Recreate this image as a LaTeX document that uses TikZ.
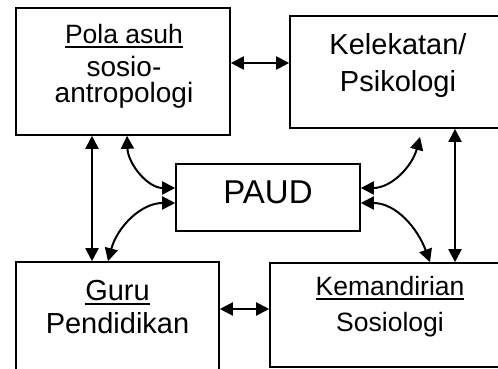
\documentclass[tikz,border=0pt]{standalone}
\usepackage{fontspec}
\setmainfont{Liberation Sans}
\usetikzlibrary{arrows.meta}
\newcommand\myul[1]{\setbox0\hbox{#1}\rlap{\rule[-3.6pt]{\wd0}{1.6pt}}\box0}
\tikzset{
  box/.style={draw, line width=1.6pt, rectangle, inner sep=0pt},
  txtA/.style={anchor=base, inner sep=0pt, font=\fontsize{26.5}{30}\selectfont},
  txtP/.style={anchor=base, inner sep=0pt, font=\fontsize{28}{32}\selectfont},
  txtB/.style={anchor=base, inner sep=0pt, font=\fontsize{29}{32}\selectfont},
  txtC/.style={anchor=base, inner sep=0pt, font=\fontsize{33}{36}\selectfont},
  conn/.style={line width=2pt, {Triangle[length=13pt,width=13pt]}-{Triangle[length=13pt,width=13pt]}},
}
\begin{document}
\begin{tikzpicture}[x=1pt,y=1pt]
\clip (0,0) rectangle (498,369);
\fill[white] (0,0) rectangle (498,369);
% boxes
\node[box, minimum width=214pt, minimum height=127pt] (pola) at (123,297.5) {};
\node[box, minimum width=216pt, minimum height=112pt] (kelek) at (398,297) {};
\node[box, minimum width=203pt, minimum height=118pt] (guru) at (117.5,48) {};
\node[box, minimum width=240pt, minimum height=104pt] (kem) at (390,54) {};
\node[box, minimum width=184pt, minimum height=67pt] (paud) at (268,171.5) {};
% texts
\node[txtA] (t1) at (124,325) {\myul{Pola asuh}};
\node[txtP] (t2) at (124,292) {sosio-};
\node[txtP] (t3) at (124,266) {antropologi};
\node[txtB] (t4) at (398,314) {Kelekatan/};
\node[txtB] (t5) at (398,277) {Psikologi};
\node[txtB] (t6) at (117.5,68) {\myul{Guru}};
\node[txtB] (t7) at (117.5,35) {Pendidikan};
\node[txtA] (t8) at (390,73) {\myul{Kemandirian}};
\node[txtA] (t9) at (390,37) {Sosiologi};
\node[txtC] (t10) at (268,165) {PAUD};
% helper coordinates
\coordinate (h1) at (260,306);
\coordinate (h2) at (245,60);
\coordinate (v1) at (92,180);
\coordinate (v2) at (455,180);
\coordinate (cA) at (127,0);
\coordinate (cB) at (108,0);
\coordinate (cC) at (420,232);
\coordinate (cD) at (430,0);
\coordinate (yU) at (0,181);
\coordinate (yL) at (0,166);
% straight connectors
\draw[conn] (h1 -| pola.east) -- (h1 -| kelek.west);
\draw[conn] (h2 -| guru.east) -- (h2 -| kem.west);
\draw[conn] (v1 |- pola.south) -- (v1 |- guru.north);
\draw[conn] (v2 |- kelek.south) -- (v2 |- kem.north);
% curved connectors
\draw[conn] (paud.west |- yU) to[out=180,in=-88] (cA |- pola.south);
\draw[conn] (paud.west |- yL) to[out=180,in=75] (cB |- guru.north);
\draw[conn] (paud.east |- yU) to[out=0,in=-105] (cC);
\draw[conn] (paud.east |- yL) to[out=0,in=110] (cD |- kem.north);
\end{tikzpicture}
\end{document}
